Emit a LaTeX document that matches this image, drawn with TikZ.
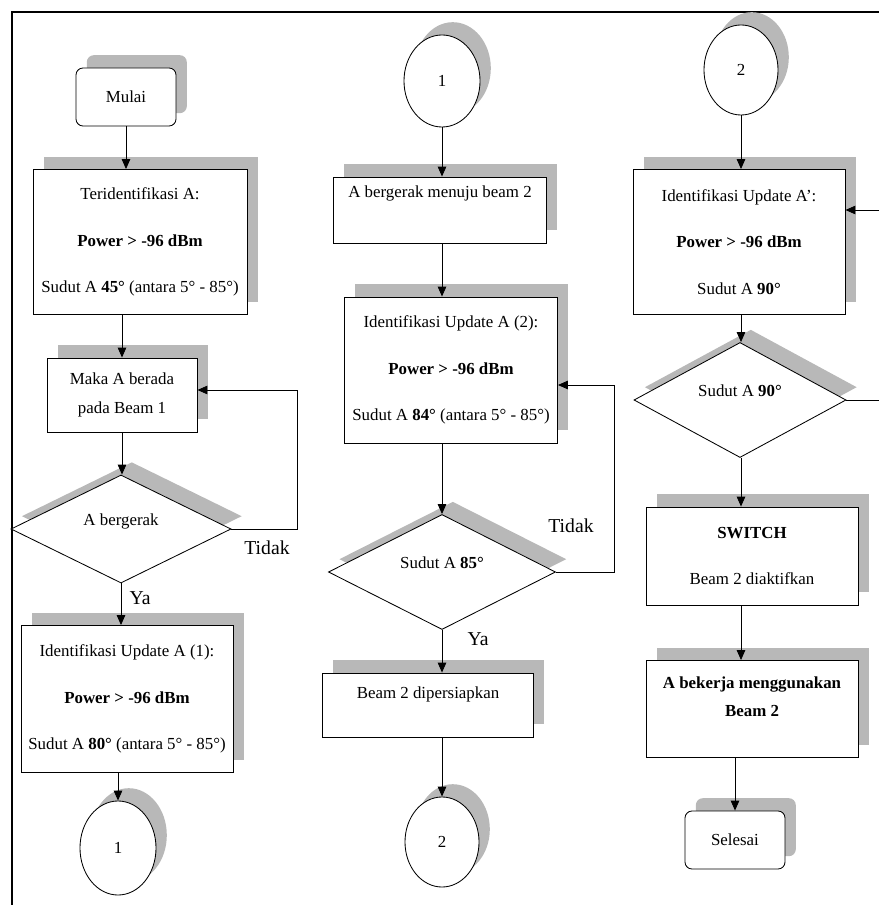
\documentclass[tikz,border=0pt]{standalone}
\usepackage{fontspec}
\setmainfont{Liberation Serif}
\usetikzlibrary{shapes.geometric,shadows,arrows.meta,positioning}

\begin{document}
\begin{tikzpicture}[
    x=0.025cm, y=-0.025cm,
    every node/.style={font=\fontsize{12}{20}\selectfont, align=center},
    shadowed/.style={drop shadow={shadow xshift=0.27cm, shadow yshift=0.32cm, fill=black!28, opacity=1}},
    proc/.style={rectangle, draw, fill=white, line width=0.6pt, minimum width=5.3cm, inner sep=2pt, shadowed},
    term/.style={rectangle, rounded corners=5pt, draw, fill=white, line width=0.6pt, minimum width=2.5cm, minimum height=1.45cm, shadowed},
    cond/.style={diamond, draw, fill=white, line width=0.6pt, inner sep=0pt, text depth=14pt, minimum height=2.7cm, shadowed},
    conn/.style={ellipse, draw, fill=white, line width=0.6pt, minimum width=1.9cm, minimum height=2.3cm, shadowed},
    answer/.style={font=\fontsize{14}{16}\selectfont},
    arrow/.style={-{Triangle[length=7pt,width=6pt]}, line width=0.6pt},
    link/.style={line width=0.6pt}
]
    \useasboundingbox (0,0) rectangle (879,905);

    % Frame
    \draw[line width=0.9pt] (12,905) -- (12,12) -- (879,12);

    % Column 1
    \node[term] (mulai) at (126,97) {Mulai};
    \node[proc, minimum width=5.35cm, minimum height=3.625cm] (tid) at (140,242) {Teridentifikasi A:\\[13pt]\textbf{Power > -96 dBm}\\[13pt]Sudut A \textbf{45°} (antara 5° - 85°)};
    \node[proc, minimum width=3.75cm, minimum height=1.85cm] (maka) at (122,395) {Maka A berada\\pada Beam 1};
    \node[cond, minimum width=5.5cm] (gerak) at (121,529) {A bergerak};
    \node[proc, minimum height=3.675cm] (upd1) at (127,699) {Identifikasi Update A (1):\\[13pt]\textbf{Power > -96 dBm}\\[13pt]Sudut A \textbf{80°} (antara 5° - 85°)};
    \node[conn, minimum height=2.35cm] (kon1a) at (118,848) {1};

    % Column 2
    \node[conn] (kon1b) at (442,81) {1};
    \node[proc, minimum width=5.325cm, minimum height=1.65cm, text depth=26pt] (menuju) at (440,210) {A bergerak menuju beam 2};
    \node[proc, minimum width=5.325cm, minimum height=3.65cm] (upd2) at (451,370) {Identifikasi Update A (2):\\[13pt]\textbf{Power > -96 dBm}\\[13pt]Sudut A \textbf{84°} (antara 5° - 85°)};
    \node[cond, minimum width=5.675cm, minimum height=2.75cm] (cek85) at (442,572) {Sudut A \textbf{85°}};
    \node[proc, minimum width=5.275cm, minimum height=1.6cm, text depth=18pt] (siap) at (428,705) {Beam 2 dipersiapkan};
    \node[conn, minimum width=1.85cm, minimum height=2.25cm] (kon2a) at (442,842) {2};

    % Column 3
    \node[conn, minimum width=1.85cm, minimum height=2.25cm] (kon2b) at (741,70) {2};
    \node[proc, minimum height=3.625cm] (upd3) at (739,242) {Identifikasi Update A’:\\[13pt]\textbf{Power > -96 dBm}\\[13pt]Sudut A \textbf{90°}};
    \node[cond, minimum width=5.3cm] (cek90) at (740,400) {Sudut A \textbf{90°}};
    \node[proc, minimum height=2.45cm] (switch) at (752,556) {\textbf{SWITCH}\\[13pt]Beam 2 diaktifkan};
    \node[proc, minimum height=2.425cm, text depth=17pt] (kerja) at (752,709) {\textbf{A bekerja menggunakan}\\\textbf{Beam 2}};
    \node[term] (selesai) at (735,840) {Selesai};

    % Answers
    \node[answer] (tidak1) at (267,548) {Tidak};
    \node[answer] (ya1) at (140,598) {Ya};
    \node[answer] (tidak2) at (571,526) {Tidak};
    \node[answer] (ya2) at (478,639) {Ya};

    % Flow arrows (third name gives the x of the arrow)
    \foreach \a/\b/\c in {mulai/tid/mulai, tid/maka/maka, maka/gerak/maka, gerak/upd1/gerak, upd1/kon1a/kon1a,
        kon1b/menuju/kon1b, menuju/upd2/cek85, upd2/cek85/cek85, cek85/siap/cek85, siap/kon2a/kon2a,
        kon2b/upd3/kon2b, upd3/cek90/kon2b, cek90/switch/kon2b, switch/kerja/kon2b, kerja/selesai/selesai} {
        \draw[arrow] (\a.south -| \c) -- (\b.north -| \c);
    }

    % Loops back
    \draw[arrow] (gerak.east) -- ++(66,0) |- ([yshift=0.125cm]maka.east);
    \draw[arrow] (cek85.east) -- ++(58,0) |- ([yshift=-0.375cm]upd2.east);

    % Links to the right edge
    \coordinate (masuk) at (879,210);
    \coordinate (keluar) at (879,400);
    \draw[arrow] (masuk) -- (masuk -| upd3.east);
    \draw[link] (cek90.east) -- (keluar);

\end{tikzpicture}
\end{document}
